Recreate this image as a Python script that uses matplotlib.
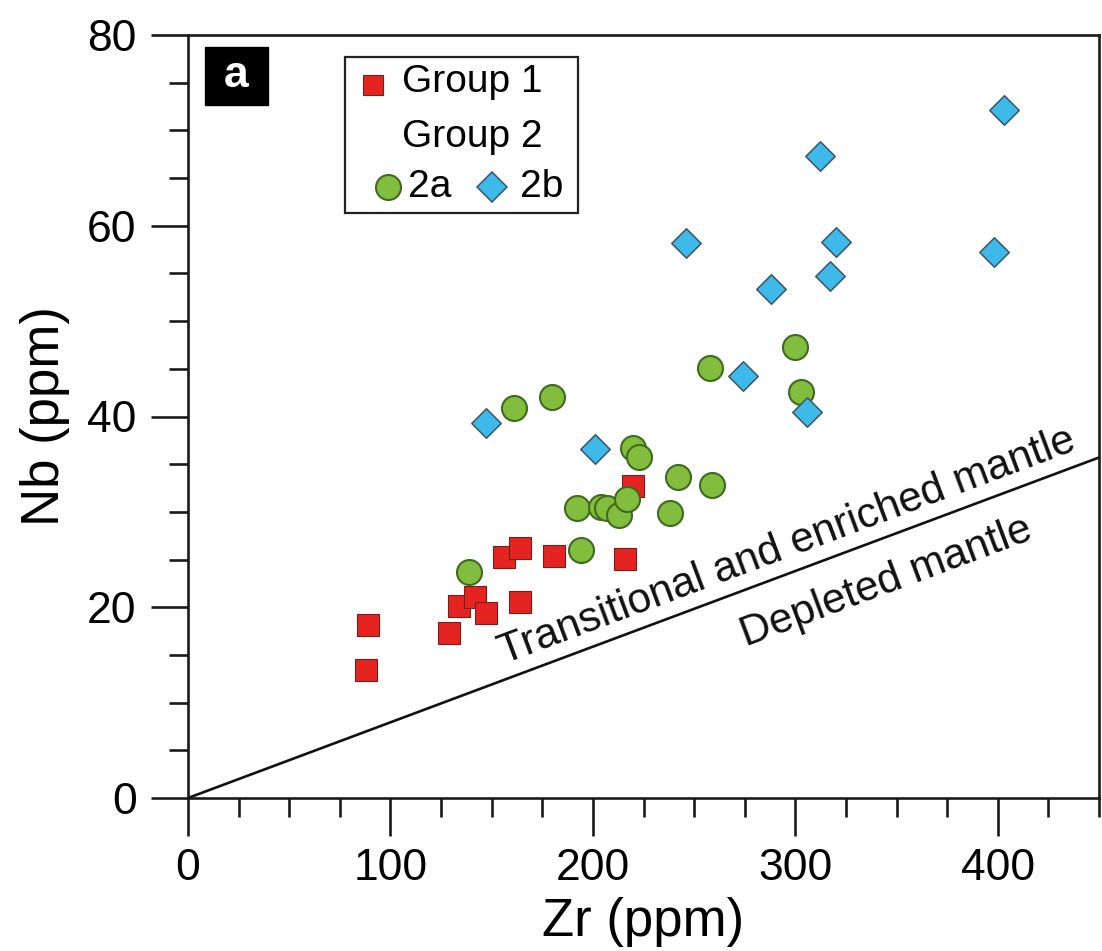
import numpy as np
import matplotlib
matplotlib.use("Agg")
import matplotlib.pyplot as plt
from matplotlib.patches import Rectangle

plt.rcParams['font.family'] = ['Liberation Sans', 'DejaVu Sans']

# ---- data ----
g1_zr = [88, 89, 129, 134, 142, 147, 156, 164, 164, 181, 216, 220]
g1_nb = [13.4, 18.1, 17.3, 20.1, 21.1, 19.4, 25.3, 26.2, 20.5, 25.4, 25.1, 32.7]

g2a_zr = [139, 161, 180, 192, 194, 204, 207, 213, 217, 220, 223, 238, 242, 259, 258, 300, 303]
g2a_nb = [23.7, 40.9, 42.0, 30.4, 26.0, 30.5, 30.4, 29.7, 31.4, 36.7, 35.8, 29.9, 33.7, 32.8, 45.1, 47.3, 42.6]

g2b_zr = [147, 201, 246, 274, 288, 306, 312, 317, 320, 398, 403]
g2b_nb = [39.3, 36.6, 58.2, 44.2, 53.4, 40.5, 67.3, 54.7, 58.3, 57.3, 72.1]

line_zr = [0, 450]
line_nb = [0, 35.7]

xlim = (0, 450)
ylim = (0, 80)
xticks = [0, 100, 200, 300, 400]
yticks = [0, 20, 40, 60, 80]

red = '#e52421'
green = '#82bd3e'
blue = '#3db9ea'

fig = plt.figure(figsize=(11.02, 9.51), dpi=100)
ax = fig.add_axes([188/1102, 1-798/951, (1099-188)/1102, (798-35)/951])
ax.set_xlim(*xlim)
ax.set_ylim(*ylim)

for s in ax.spines.values():
    s.set_linewidth(1.9)
    s.set_color('#1a1a1a')

ax.set_xticks(xticks)
ax.set_yticks(yticks)
ax.set_xticks(np.arange(0, 451, 25), minor=True)
ax.set_yticks(np.arange(0, 81, 5), minor=True)
ax.tick_params(which='major', direction='out', length=27, width=1.9, labelsize=32, pad=9, color='#1a1a1a')
ax.tick_params(which='minor', direction='out', length=14, width=1.9, color='#1a1a1a')
ax.tick_params(axis='y', which='major', pad=10)

ax.set_xlabel('Zr (ppm)', fontsize=38, labelpad=6)
ax.set_ylabel('Nb (ppm)', fontsize=38, labelpad=12)

# boundary line
ax.plot(line_zr, line_nb, color='#111111', lw=1.9, zorder=2, clip_on=True)

ax.scatter(g1_zr, g1_nb, marker='s', s=15.5**2, c=red, edgecolors='#7a1d1d', linewidths=0.8, zorder=3)
ax.scatter(g2a_zr, g2a_nb, marker='o', s=18**2, c=green, edgecolors='#3e6b1e', linewidths=1.5, zorder=4)
ax.scatter(g2b_zr, g2b_nb, marker='D', s=15**2, c=blue, edgecolors='#3a5566', linewidths=1.1, zorder=5)

# rotation angle of the line on screen
fig.canvas.draw()
p0 = ax.transData.transform((line_zr[0], line_nb[0]))
p1 = ax.transData.transform((line_zr[1], line_nb[1]))
ang = np.degrees(np.arctan2(p1[1]-p0[1], p1[0]-p0[0]))

ax.text(296, 26.4, 'Transitional and enriched mantle', rotation=ang, rotation_mode='anchor',
        ha='center', va='center', fontsize=30.5, color='#111111')
ax.text(345, 22.6, 'Depleted mantle', rotation=ang, rotation_mode='anchor',
        ha='center', va='center', fontsize=30.5, color='#111111')

# panel label
ax.add_patch(Rectangle((0.0187, 0.9083), 0.0692, 0.076, transform=ax.transAxes,
                       fc='black', ec='black', zorder=6))
ax.text(0.0532, 0.9463, 'a', transform=ax.transAxes, ha='center', va='center',
        fontsize=32, fontweight='bold', color='white', zorder=7)

# custom legend
ax.add_patch(Rectangle((0.1723, 0.7667), 0.428-0.1723, 0.9712-0.7667, transform=ax.transAxes,
                       fill=True, fc='white', ec='#222222', lw=1.6, zorder=6))
ax.plot([0.2031], [0.9345], marker='s', ms=14, mfc=red, mec='#7a1d1d', mew=0.8,
        transform=ax.transAxes, zorder=7, clip_on=False)
ax.text(0.2349, 0.9384, 'Group 1', transform=ax.transAxes, ha='left', va='center', fontsize=28, zorder=7)
ax.text(0.2349, 0.8663, 'Group 2', transform=ax.transAxes, ha='left', va='center', fontsize=28, zorder=7)
ax.plot([0.2195], [0.8008], marker='o', ms=18, mfc=green, mec='#3e6b1e', mew=1.5,
        transform=ax.transAxes, zorder=7, clip_on=False)
ax.text(0.2415, 0.8008, '2a', transform=ax.transAxes, ha='left', va='center', fontsize=28, zorder=7)
ax.plot([0.3337], [0.8008], marker='D', ms=15, mfc=blue, mec='#3a5566', mew=1.1,
        transform=ax.transAxes, zorder=7, clip_on=False)
ax.text(0.3644, 0.8008, '2b', transform=ax.transAxes, ha='left', va='center', fontsize=28, zorder=7)

fig.savefig('out.png', dpi=100)
